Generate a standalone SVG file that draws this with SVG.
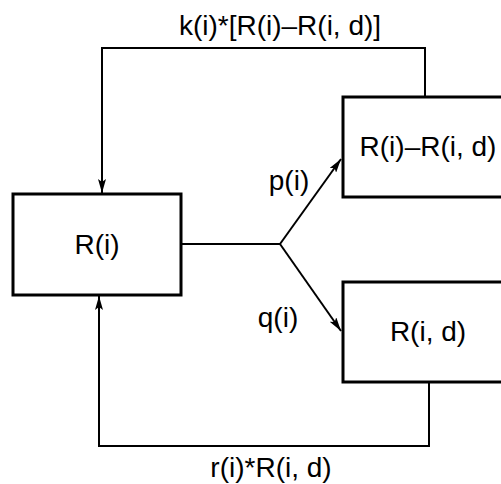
<svg xmlns="http://www.w3.org/2000/svg" width="501" height="484" viewBox="0 0 501 484">
<style>
.box{fill:#fff;stroke:#000;stroke-width:3}
.ln{fill:none;stroke:#000;stroke-width:2}
text{font-family:"Liberation Sans",Arial,sans-serif;font-size:28px;fill:#000}
</style>
<defs>
<marker id="ah" viewBox="0 0 14 8" refX="14" refY="4" markerWidth="14" markerHeight="8" markerUnits="userSpaceOnUse" orient="auto">
<path d="M0,0 L14,4 L0,8 L3,4 Z" fill="#000"/>
</marker>
</defs>
<rect width="501" height="484" fill="#fff"/>
<g id="connectors">
<path class="ln" d="M425,97 V48 H102 V193" marker-end="url(#ah)"/>
<path class="ln" d="M429,382 V446 H99 V296" marker-end="url(#ah)"/>
<path class="ln" d="M181,244 H280"/>
<path class="ln" d="M280,244 L341,159" marker-end="url(#ah)"/>
<path class="ln" d="M280,244 L341,331" marker-end="url(#ah)"/>
<text x="280" y="35" text-anchor="middle">k(i)*[R(i)–R(i, d)]</text>
<text x="271" y="477" text-anchor="middle">r(i)*R(i, d)</text>
<text x="289" y="190" text-anchor="middle">p(i)</text>
<text x="278" y="327" text-anchor="middle">q(i)</text>
</g>
<g id="node-ri">
<rect class="box" x="13" y="194" width="168" height="101"/>
<text x="97" y="254" text-anchor="middle">R(i)</text>
</g>
<g id="node-diff">
<rect class="box" x="343" y="97" width="170" height="100"/>
<text x="428" y="156" text-anchor="middle">R(i)–R(i, d)</text>
</g>
<g id="node-rid">
<rect class="box" x="343" y="282" width="170" height="100"/>
<text x="428" y="341" text-anchor="middle">R(i, d)</text>
</g>
</svg>
